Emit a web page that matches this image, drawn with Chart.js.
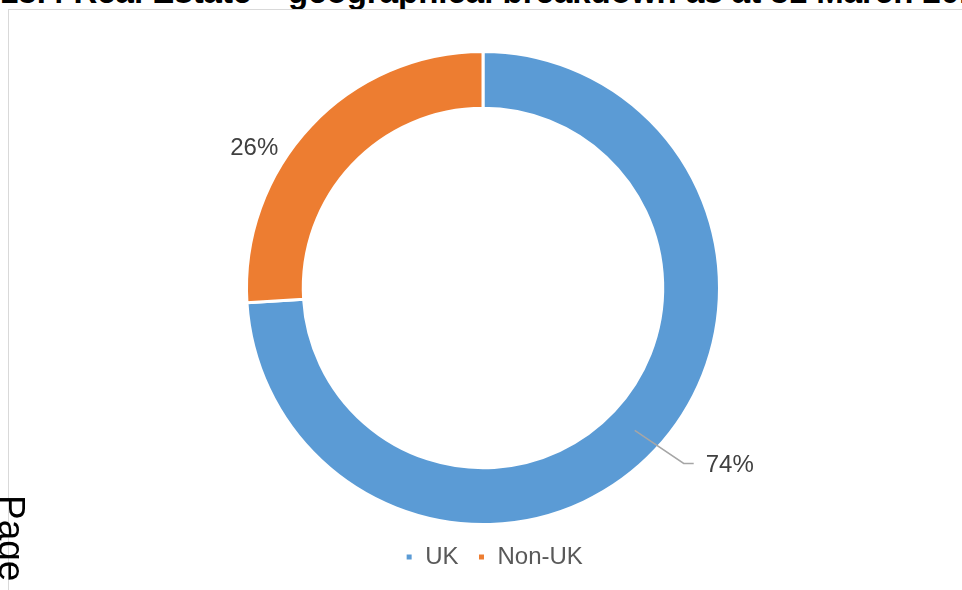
<!DOCTYPE html>
<html>
<head>
<meta charset="utf-8">
<script src="https://cdn.jsdelivr.net/npm/chart.js@4/dist/chart.umd.min.js"></script>
<style>
    html, body { margin: 0; padding: 0; background: #fff; overflow: hidden; }
    #page { position: relative; width: 962px; height: 590px; overflow: hidden; }
    #heading {
        position: absolute; left: 0; top: -25px; white-space: nowrap;
        font: bold 33px/33px "Liberation Sans", Arial, sans-serif; color: #000;
    }
    #frame {
        position: absolute; left: 8px; top: 9px; right: -2px; bottom: -2px;
        border-left: 1px solid #d9d9d9; border-top: 1px solid #d9d9d9;
    }
    #margin {
        position: absolute; left: 30px; top: 495px; white-space: nowrap;
        font: 37px/37px "Liberation Sans", Arial, sans-serif; color: #000;
        transform: rotate(90deg); transform-origin: 0 0;
    }
    #chart { position: absolute; left: 0; top: 0; }
</style>
</head>
<body>
<div id="page">
    <div id="heading">13.4 Real Estate – geographical breakdown as at 31 March 2016</div>
    <div id="frame"></div>
    <canvas id="chart" width="962" height="590"></canvas>
    <div id="margin">Page</div>
</div>
<script>
// доли портфеля недвижимости по регионам
const regions = ["UK", "Non-UK"];
const shares = [74, 26];
const sliceColors = ["#5B9BD5", "#ED7D31"];

// подписи процентов: у UK выноска с изломом, у Non-UK просто текст снаружи
const sliceLabels = {
    id: "sliceLabels",
    afterDatasetsDraw(chart, args, opts) {
        const ctx = chart.ctx;
        const meta = chart.getDatasetMeta(0);
        const total = shares.reduce((a, b) => a + b, 0);

        ctx.save();
        ctx.font = opts.font;
        ctx.fillStyle = opts.color;
        ctx.textBaseline = "middle";

        meta.data.forEach((arc, i) => {
            const p = arc.getProps(
                ["x", "y", "startAngle", "endAngle", "innerRadius", "outerRadius"],
                true
            );
            const mid = (p.startAngle + p.endAngle) / 2;
            const r = (p.innerRadius + p.outerRadius) / 2;
            const ax = p.x + Math.cos(mid) * r;
            const ay = p.y + Math.sin(mid) * r;
            const place = opts.placement[i];
            const text = Math.round((shares[i] / total) * 100) + "%";

            if (place.leader) {
                ctx.strokeStyle = opts.leaderColor;
                ctx.lineWidth = 1.5;
                ctx.beginPath();
                ctx.moveTo(ax, ay);
                ctx.lineTo(ax + place.leader[0], ay + place.leader[1]);
                ctx.lineTo(ax + place.leader[0] + 10, ay + place.leader[1]);
                ctx.stroke();
            }
            ctx.textAlign = place.align;
            ctx.fillText(text, ax + place.dx, ay + place.dy);
        });
        ctx.restore();
    },
};

// легенда стоит чуть правее центра
const legendShift = {
    id: "legendShift",
    afterLayout(chart, args, opts) {
        chart.legend.left += opts.dx;
        chart.legend.right += opts.dx;
    },
};

new Chart(document.getElementById("chart"), {
    type: "doughnut",
    data: {
        labels: regions,
        datasets: [
            {
                data: shares,
                backgroundColor: sliceColors,
                borderColor: "#ffffff",
                borderWidth: 3,
                hoverOffset: 0,
            },
        ],
    },
    options: {
        responsive: false,
        animation: false,
        cutout: "76%",
        layout: { padding: { top: 50, left: 12, right: 8, bottom: 11 } },
        plugins: {
            tooltip: { enabled: false },
            legend: {
                position: "bottom",
                labels: {
                    boxWidth: 8,
                    boxHeight: 8,
                    padding: 19,
                    color: "#595959",
                    font: { family: "'Liberation Sans', Arial, sans-serif", size: 24 },
                },
            },
            legendShift: { dx: 11 },
            sliceLabels: {
                font: "24px 'Liberation Sans', Arial, sans-serif",
                color: "#404040",
                leaderColor: "#a6a6a6",
                placement: [
                    { dx: 71, dy: 35, align: "left", leader: [49, 33] },
                    { dx: -77, dy: 3, align: "center" },
                ],
            },
        },
    },
    plugins: [sliceLabels, legendShift],
});
</script>
</body>
</html>
